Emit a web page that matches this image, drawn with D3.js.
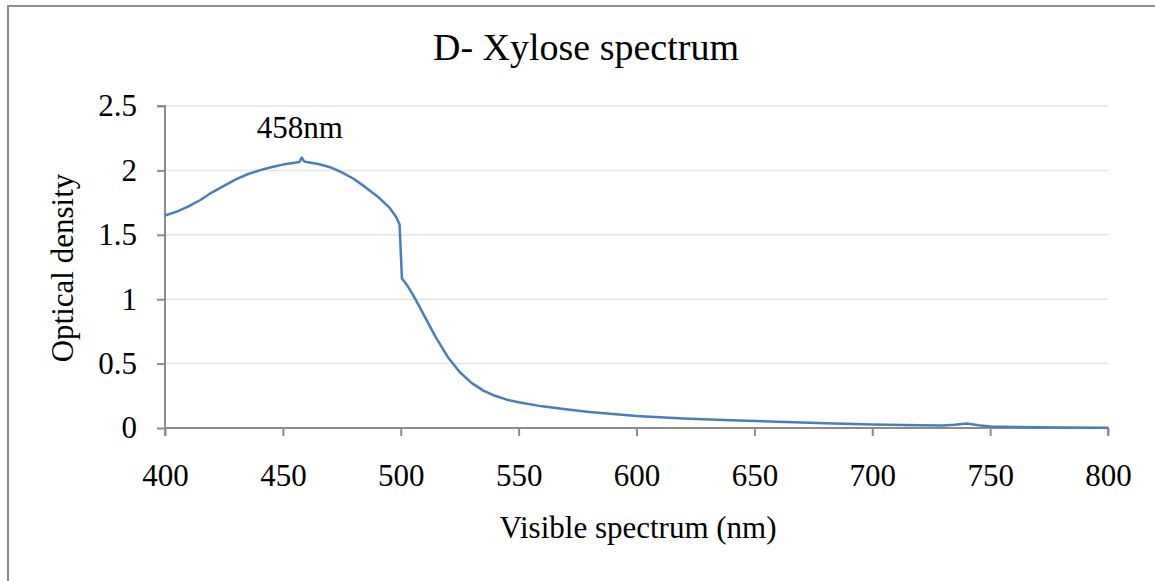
<!DOCTYPE html>
<html>
<head>
<meta charset="utf-8">
<script src="https://cdn.jsdelivr.net/npm/d3@7"></script>
<style>
  html, body { margin: 0; padding: 0; background: #fff; }
  svg { display: block; }
  text { font-family: "Liberation Serif", "Times New Roman", serif; fill: #000; }
</style>
</head>
<body>
<svg id="chart" width="1155" height="581"></svg>
<script>
const wavelengths = [400,405,410,415,420,425,430,435,440,445,450,455,457,458,459,460,465,470,475,480,485,490,495,498,499.5,500.5,501,503,505,508,510,515,520,525,530,535,540,545,550,560,570,580,590,600,620,640,660,680,700,720,730,735,740,745,750,760,780,800];
const density = [1.65,1.68,1.72,1.77,1.83,1.88,1.93,1.97,2.00,2.025,2.045,2.06,2.065,2.10,2.07,2.065,2.05,2.025,1.985,1.935,1.87,1.80,1.715,1.64,1.58,1.16,1.15,1.10,1.04,0.94,0.87,0.70,0.55,0.435,0.35,0.29,0.25,0.22,0.20,0.168,0.145,0.125,0.108,0.093,0.074,0.060,0.048,0.037,0.028,0.022,0.020,0.025,0.035,0.022,0.012,0.008,0.004,0.002];
const xTicks = [400,450,500,550,600,650,700,750,800];
const yTicks = [0,0.5,1,1.5,2,2.5];
const yTickLabels = ["0","0.5","1","1.5","2","2.5"];
const titleText = "D- Xylose spectrum";
const xLabel = "Visible spectrum (nm)";
const yLabel = "Optical density";
const peakLabel = "458nm";
const peakWavelength = 458;

const svg = d3.select("#chart");
const W = 1155, H = 581;
const margin = {left: 165, right: 1108, top: 106, bottom: 428};

// outer frame
svg.append("rect").attr("x", 8).attr("y", 6).attr("width", W + 10).attr("height", H + 10)
  .attr("fill", "#fff").attr("stroke", "#8e8e8e").attr("stroke-width", 2);

const x = d3.scaleLinear().domain([400, 800]).range([margin.left, margin.right]);
const y = d3.scaleLinear().domain([0, 2.5]).range([margin.bottom, margin.top]);

// gridlines
svg.append("g").selectAll("line").data(yTicks.filter(d => d > 0)).join("line")
  .attr("x1", margin.left).attr("x2", margin.right)
  .attr("y1", d => y(d)).attr("y2", d => y(d))
  .attr("stroke", "#e4e4e4").attr("stroke-width", 1.5);

// y axis
const yAxis = svg.append("g").attr("transform", `translate(${margin.left},0)`)
  .call(d3.axisLeft(y).tickValues(yTicks).tickFormat((d, i) => yTickLabels[i]).tickSize(8).tickPadding(20));
// x axis
const xAxis = svg.append("g").attr("transform", `translate(0,${margin.bottom})`)
  .call(d3.axisBottom(x).tickValues(xTicks).tickSize(8).tickPadding(28));

[yAxis, xAxis].forEach(g => {
  g.attr("font-family", null);
  g.select(".domain").attr("stroke", "#8c8c8c").attr("stroke-width", 2);
  g.selectAll(".tick line").attr("stroke", "#8c8c8c").attr("stroke-width", 2);
  g.selectAll(".tick text").attr("font-family", "Liberation Serif").attr("font-size", 31).attr("fill", "#000");
});
yAxis.select(".domain").attr("d", `M-8,${margin.top}H0V${margin.bottom}`);
xAxis.select(".domain").attr("d", `M${margin.left},8V0H${margin.right}V8`);

// line
const line = d3.line().x((d, i) => x(wavelengths[i])).y(d => y(d));
svg.append("path").datum(density).attr("d", line)
  .attr("fill", "none").attr("stroke", "#4a7ebb").attr("stroke-width", 2.5)
  .attr("stroke-linejoin", "round");

// title
svg.append("text").attr("x", 586).attr("y", 60).attr("text-anchor", "middle")
  .attr("font-size", 38).text(titleText);
// annotation
svg.append("text").attr("x", x(peakWavelength) - 2).attr("y", 138).attr("text-anchor", "middle")
  .attr("font-size", 31).text(peakLabel);
// x label
svg.append("text").attr("x", 638).attr("y", 538).attr("text-anchor", "middle")
  .attr("font-size", 31).text(xLabel);
// y label
svg.append("text").attr("transform", `translate(73,268) rotate(-90)`).attr("text-anchor", "middle")
  .attr("font-size", 31).text(yLabel);
</script>
</body>
</html>
